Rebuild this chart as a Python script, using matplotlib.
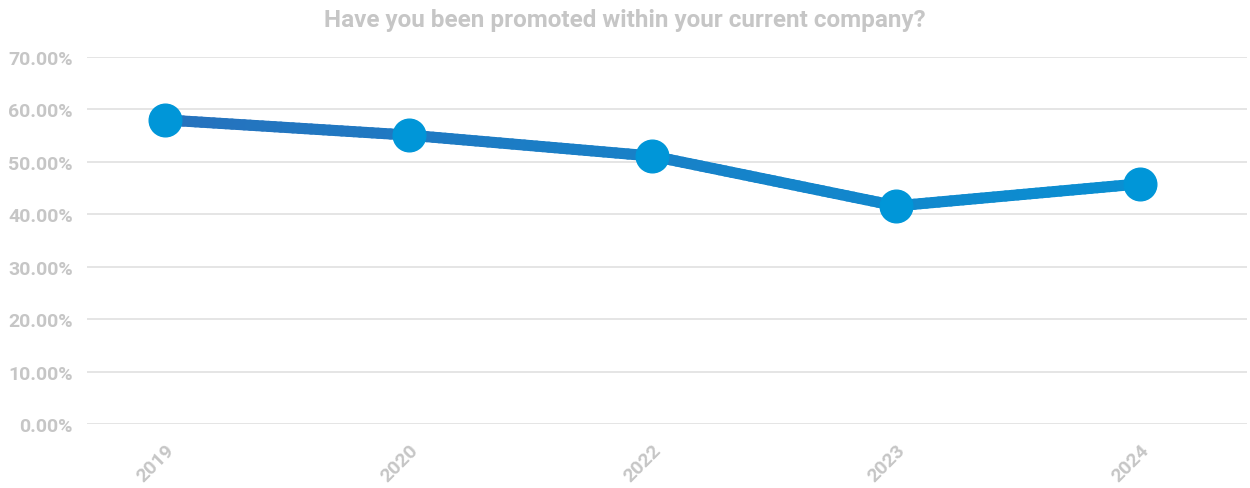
import matplotlib
matplotlib.use("Agg")
import matplotlib.pyplot as plt
from matplotlib.collections import LineCollection
from matplotlib.colors import LinearSegmentedColormap
import matplotlib.ticker as mticker
import numpy as np

# Data
years = ["2019", "2020", "2022", "2023", "2024"]
promoted_pct = [58.0, 55.1, 51.1, 41.6, 45.8]
y_ticks = [0, 10, 20, 30, 40, 50, 60, 70]

grey = "#c6c6c6"
marker_color = "#0096d8"
line_cmap = LinearSegmentedColormap.from_list("promo", ["#2672bd", "#0a8fd2"])

plt.rcParams["font.family"] = ["Roboto", "DejaVu Sans"]

fig = plt.figure(figsize=(12.5, 4.89), dpi=100)
ax = fig.add_axes([0.0696, 0.1309, 0.928, 0.7505])

x = np.arange(len(years))
y = np.array(promoted_pct)

# gradient line: split into small pieces, colour by position along x
n_sub = 40
pts_x, pts_y = [], []
for i in range(len(x) - 1):
    t = np.linspace(0, 1, n_sub, endpoint=False)
    pts_x.extend(x[i] + t * (x[i + 1] - x[i]))
    pts_y.extend(y[i] + t * (y[i + 1] - y[i]))
pts_x.append(x[-1])
pts_y.append(y[-1])
pts = np.column_stack([pts_x, pts_y]).reshape(-1, 1, 2)
segs = np.concatenate([pts[:-1], pts[1:]], axis=1)
lc = LineCollection(segs, cmap=line_cmap, linewidths=8, capstyle="round", zorder=3)
lc.set_array(np.array(pts_x[:-1]))
lc.set_clim(0, len(x) - 1)
ax.add_collection(lc)

ax.plot(x, y, linestyle="none", marker="o", markersize=23.5,
        markerfacecolor=marker_color, markeredgecolor=marker_color, zorder=4)

ax.set_xlim(-0.32, 4.44)
ax.set_ylim(0, 70)
ax.set_yticks(y_ticks)
ax.yaxis.set_major_formatter(mticker.FuncFormatter(lambda v, _: f"{v:.2f}%"))
ax.set_xticks(x)
ax.set_xticklabels(years, rotation=45, ha="right", rotation_mode="anchor")

ax.grid(axis="y", color="#dedede", linewidth=1.1)
ax.set_axisbelow(True)
for s in ax.spines.values():
    s.set_visible(False)
ax.tick_params(axis="both", length=0, colors=grey, labelsize=14)
ax.tick_params(axis="y", pad=10)
ax.tick_params(axis="x", pad=12)
for lbl in ax.get_xticklabels() + ax.get_yticklabels():
    lbl.set_fontweight("bold")

fig.suptitle("Have you been promoted within your current company?", x=0.5, y=0.982,
             fontsize=17.5, fontweight="bold", color=grey)

fig.savefig("out.png", dpi=100, facecolor="white")
